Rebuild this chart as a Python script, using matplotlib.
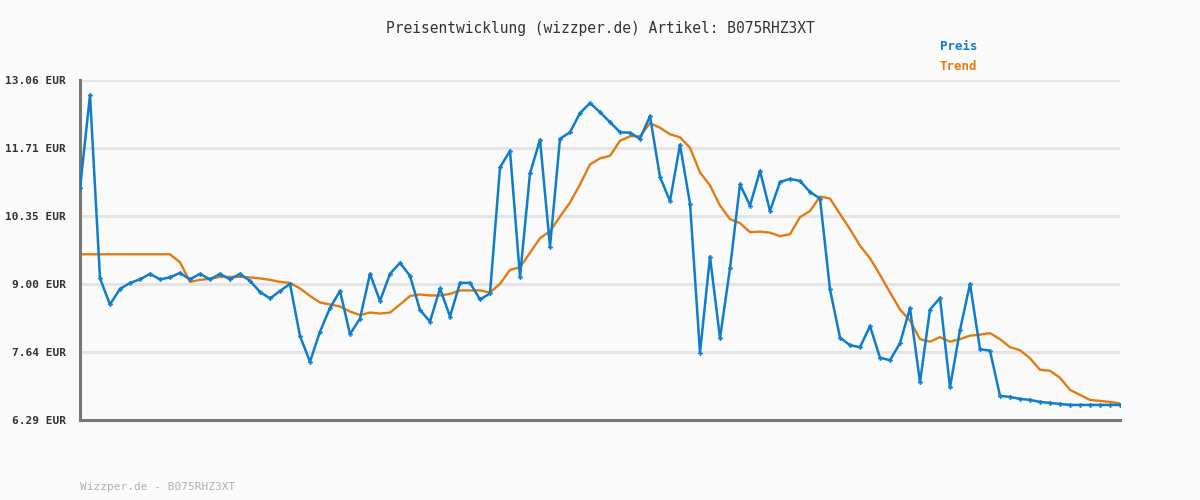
import matplotlib
matplotlib.use("Agg")
import matplotlib.pyplot as plt

preis = [10.90, 12.76, 9.11, 8.59, 8.90, 9.02, 9.09, 9.20, 9.09, 9.13,
         9.22, 9.09, 9.20, 9.09, 9.20, 9.09, 9.20, 9.06, 8.84, 8.71,
         8.86, 9.00, 7.96, 7.45, 8.05, 8.52, 8.86, 8.00, 8.31, 9.20,
         8.66, 9.20, 9.42, 9.16, 8.48, 8.25, 8.91, 8.35, 9.02, 9.02,
         8.69, 8.81, 11.32, 11.65, 9.14, 11.20, 11.87, 9.74, 11.89, 12.02,
         12.40, 12.60, 12.42, 12.22, 12.02, 12.01, 11.89, 12.34, 11.13, 10.65,
         11.77, 10.60, 7.63, 9.54, 7.92, 9.31, 10.98, 10.56, 11.25, 10.45,
         11.03, 11.09, 11.05, 10.83, 10.70, 8.89, 7.93, 7.78, 7.74, 8.16,
         7.53, 7.48, 7.82, 8.52, 7.04, 8.49, 8.72, 6.94, 8.08, 9.00,
         7.70, 7.67, 6.77, 6.75, 6.71, 6.69, 6.65, 6.63, 6.61, 6.59,
         6.59, 6.59, 6.59, 6.59, 6.59]

trend = [9.59, 9.59, 9.59, 9.59, 9.59, 9.59, 9.59, 9.59, 9.59, 9.59,
         9.43, 9.04, 9.08, 9.10, 9.14, 9.14, 9.14, 9.13, 9.11, 9.08,
         9.04, 9.02, 8.91, 8.76, 8.63, 8.59, 8.55, 8.45, 8.38, 8.43,
         8.41, 8.43, 8.59, 8.76, 8.79, 8.77, 8.77, 8.80, 8.87, 8.87,
         8.87, 8.83, 9.00, 9.28, 9.33, 9.62, 9.91, 10.05, 10.34, 10.62,
         10.98, 11.38, 11.50, 11.55, 11.85, 11.94, 11.94, 12.20, 12.11, 11.98,
         11.92, 11.71, 11.22, 10.96, 10.56, 10.29, 10.21, 10.03, 10.04, 10.02,
         9.95, 9.99, 10.33, 10.45, 10.74, 10.70, 10.39, 10.09, 9.76, 9.51,
         9.18, 8.83, 8.49, 8.27, 7.90, 7.85, 7.94, 7.85, 7.90, 7.97,
         7.99, 8.02, 7.90, 7.74, 7.68, 7.52, 7.29, 7.27, 7.13, 6.89,
         6.79, 6.69, 6.67, 6.65, 6.62]

ytick_values = [6.29, 7.644, 8.998, 10.352, 11.706, 13.06]
ytick_labels = ["6.29 EUR", "7.64 EUR", "9.00 EUR", "10.35 EUR", "11.71 EUR", "13.06 EUR"]

title = "Preisentwicklung (wizzper.de) Artikel: B075RHZ3XT"
footer = "Wizzper.de - B075RHZ3XT"

blue = "#0f7dcb"
orange = "#e07c12"
bg = "#fafafa"
mono = ["DejaVu Sans Mono"]

fig = plt.figure(figsize=(12, 5), dpi=100, facecolor=bg)
ax = fig.add_axes([80/1200, 80/500, 1040/1200, 340/500], facecolor=bg)

x = list(range(len(preis)))
ax.set_xlim(0, len(preis) - 1)
ax.set_ylim(ytick_values[0], ytick_values[-1])

for v in ytick_values[1:]:
    ax.axhline(v, color="#e4e4e4", lw=2.2, zorder=0)

ax.plot(x, trend, color=orange, lw=1.7, zorder=2, solid_joinstyle="round")
ax.plot(x, preis, color=blue, lw=1.8, marker="P", markersize=3.5,
        markeredgewidth=0, zorder=3)

ax.set_xticks([])
ax.set_yticks(ytick_values)
ax.set_yticklabels(ytick_labels, family=mono, fontsize=8, fontweight="bold", color="#333333")
ax.tick_params(axis="y", length=0, pad=10)

for s in ["top", "right"]:
    ax.spines[s].set_visible(False)
for s in ["left", "bottom"]:
    ax.spines[s].set_color("#777777")
    ax.spines[s].set_linewidth(2.2)

fig.text(0.5, 1 - 28/500, title, ha="center", va="center", family=mono,
         fontsize=10.5, color="#333333")
fig.text(940/1200, 1 - 47/500, "Preis", ha="left", va="center", family=mono,
         fontsize=9, fontweight="bold", color=blue)
fig.text(940/1200, 1 - 67/500, "Trend", ha="left", va="center", family=mono,
         fontsize=9, fontweight="bold", color=orange)
fig.text(80/1200, 1 - 487/500, footer, ha="left", va="center", family=mono,
         fontsize=8, color="#b0b0b0")

fig.savefig("out.png", dpi=100, facecolor=bg)
